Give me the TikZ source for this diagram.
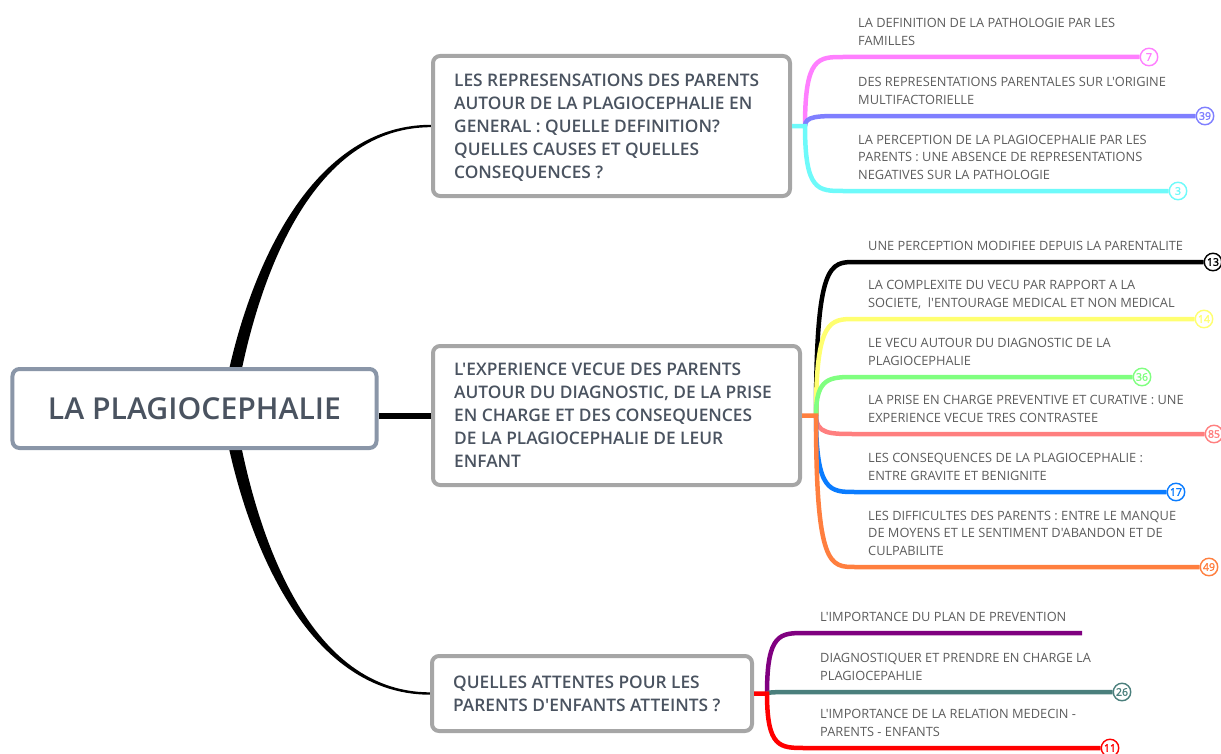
\documentclass[tikz,border=0pt]{standalone}
\usepackage{fontspec}
\setmainfont{Open Sans}[Ligatures=TeXOff]
\IfFontExistsTF{Open Sans SemiBold}
  {\newfontfamily\topicfont{Open Sans SemiBold}[Ligatures=TeXOff]}
  {\IfFontExistsTF{Open Sans Semibold}
    {\newfontfamily\topicfont{Open Sans Semibold}[Ligatures=TeXOff]}
    {\newfontfamily\topicfont{Open Sans}[Ligatures=TeXOff,FakeBold=2.5]}}
\newfontfamily\tallyfont{Open Sans}[Ligatures=TeXOff,FakeBold=2]
\usetikzlibrary{positioning,backgrounds}

\definecolor{rootblue}{HTML}{8A96A8}
\definecolor{boxgray}{HTML}{A6A6A6}
\definecolor{topicink}{HTML}{4A5360}
\definecolor{leafink}{HTML}{5C5C5C}
\definecolor{pinkc}{HTML}{FF7FFF}
\definecolor{lilacc}{HTML}{7F7FFF}
\definecolor{cyanc}{HTML}{6EFAFA}
\definecolor{yellowc}{HTML}{FFFF70}
\definecolor{greenc}{HTML}{80FF80}
\definecolor{salmonc}{HTML}{FF7F7F}
\definecolor{bluec}{HTML}{0A7CFF}
\definecolor{orangec}{HTML}{FF7F3F}
\definecolor{purplec}{HTML}{800080}
\definecolor{tealc}{HTML}{4A7F7C}
\definecolor{redc}{HTML}{FF0000}

\tikzset{
  rootbox/.style={draw=rootblue, line width=4bp, rounded corners=7bp, fill=white,
    minimum width=364bp, minimum height=79bp, text=topicink,
    font=\topicfont\fontsize{30.2bp}{36bp}\selectfont},
  topicbox/.style={draw=boxgray, line width=4bp, rounded corners=7bp, fill=white},
  topiclabel/.style={inner sep=0pt, align=left, text depth=0pt, text=topicink,
    font=\topicfont\fontsize{17.3bp}{23bp}\selectfont},
  leaftext/.style={inner sep=0pt, align=left, anchor=south west, text depth=0pt,
    text=leafink, font=\fontsize{12.8bp}{17.5bp}\selectfont},
  twig/.style={draw=#1, line width=4.5bp},
  tally/.style={circle, draw=#1, text=#1, fill=white, line width=1.4bp,
    minimum size=17.5bp, inner sep=0pt, font=\tallyfont\fontsize{10.5bp}{10.5bp}\selectfont},
}

\begin{document}
\begin{tikzpicture}[x=1bp, y=-1bp]
  \useasboundingbox (0,0) rectangle (1221,754);

  % main topics
  \node[rootbox] (root) at (194.5,408.5) {LA PLAGIOCEPHALIE};
  \node[topicbox, minimum width=357bp, minimum height=140bp] (rep) at (611.5,126) {};
  \node[topicbox, minimum width=367bp, minimum height=139bp] (exp) at (616.5,415.5) {};
  \node[topicbox, minimum width=320bp, minimum height=75bp] (att) at (592,693.5) {};

  \node[topiclabel, right=23bp of rep.west] (reptext)
    {LES REPRESENSATIONS DES PARENTS\\AUTOUR DE LA PLAGIOCEPHALIE EN\\GENERAL : QUELLE DEFINITION?\\QUELLES CAUSES ET QUELLES\\CONSEQUENCES ?};
  \node[topiclabel, right=23bp of exp.west] (exptext)
    {L'EXPERIENCE VECUE DES PARENTS\\AUTOUR DU DIAGNOSTIC, DE LA PRISE\\EN CHARGE ET DES CONSEQUENCES\\DE LA PLAGIOCEPHALIE DE LEUR\\ENFANT};
  \node[topiclabel, right=23bp of att.west] (atttext)
    {QUELLES ATTENTES POUR LES\\PARENTS D'ENFANTS ATTEINTS ?};

  % trunk from the root
  \coordinate (rootx) at (228,409);
  \begin{pgfonlayer}{background}
    \fill ([xshift=-6.5bp]rootx) .. controls +(17,-109) and +(-132,0) .. ([yshift=1.2bp]rep.west)
      -- ([yshift=-1.2bp]rep.west) .. controls +(-128,0) and +(17,-109) .. ([xshift=6.5bp]rootx) -- cycle;
    \fill ([xshift=-6.5bp]rootx) .. controls +(17,109) and +(-132,0) .. ([yshift=-1.2bp]att.west)
      -- ([yshift=1.2bp]att.west) .. controls +(-128,0) and +(17,109) .. ([xshift=6.5bp]rootx) -- cycle;
  \end{pgfonlayer}
  \draw[line width=6bp] (exp.west) -- (exp.west -| root.east);

  % first topic
  \coordinate (repfork) at ([xshift=13bp]rep.east);
  \coordinate (h11) at (843,57);
  \coordinate (h12) at (843,116);
  \coordinate (h13) at (843,191);
  \node[tally=pinkc] (n11) at (1149,57) {7};
  \node[tally=lilacc] (n12) at (1205,116) {39};
  \node[tally=cyanc] (n13) at (1178,191) {3};
  \draw[twig=pinkc] (repfork) .. controls (repfork |- h11) and +(-25,0) .. (h11) -- (n11);
  \draw[twig=lilacc] (repfork) .. controls (repfork |- h12) and +(-25,0) .. (h12) -- (n12);
  \draw[twig=cyanc] (rep.east) -- (repfork) .. controls (repfork |- h13) and +(-25,0) .. (h13) -- (n13);
  \node[leaftext] (t11) at (858,45.5) {LA DEFINITION DE LA PATHOLOGIE PAR LES\\FAMILLES};
  \node[leaftext] (t12) at (858,104.5) {DES REPRESENTATIONS PARENTALES SUR L'ORIGINE\\MULTIFACTORIELLE};
  \node[leaftext] (t13) at (858,179.5) {LA PERCEPTION DE LA PLAGIOCEPHALIE PAR LES\\PARENTS : UNE ABSENCE DE REPRESENTATIONS\\NEGATIVES SUR LA PATHOLOGIE};

  % second topic
  \coordinate (expfork) at ([xshift=14bp]exp.east);
  \coordinate (h21) at (855,262);
  \coordinate (h22) at (855,319);
  \coordinate (h23) at (855,377);
  \coordinate (h24) at (855,434);
  \coordinate (h25) at (855,492);
  \coordinate (h26) at (855,567);
  \node[tally=black] (n21) at (1213,262) {13};
  \node[tally=yellowc] (n22) at (1204,319) {14};
  \node[tally=greenc] (n23) at (1142,377) {36};
  \node[tally=salmonc] (n24) at (1214,434) {85};
  \node[tally=bluec] (n25) at (1176,492) {17};
  \node[tally=orangec] (n26) at (1209,567) {49};
  \draw[twig=black] (expfork) .. controls (expfork |- h21) and +(-25,0) .. (h21) -- (n21);
  \draw[twig=yellowc] (expfork) .. controls (expfork |- h22) and +(-25,0) .. (h22) -- (n22);
  \draw[twig=greenc] (expfork) .. controls (expfork |- h23) and +(-25,0) .. (h23) -- (n23);
  \draw[twig=salmonc] (expfork) .. controls (expfork |- h24) and +(-25,0) .. (h24) -- (n24);
  \draw[twig=bluec] (expfork) .. controls (expfork |- h25) and +(-25,0) .. (h25) -- (n25);
  \draw[twig=orangec] (exp.east) -- (expfork) .. controls (expfork |- h26) and +(-25,0) .. (h26) -- (n26);
  \node[leaftext] (t21) at (868,250.5) {UNE PERCEPTION MODIFIEE DEPUIS LA PARENTALITE};
  \node[leaftext] (t22) at (868,307.5) {LA COMPLEXITE DU VECU PAR RAPPORT A LA\\SOCIETE,~ l'ENTOURAGE MEDICAL ET NON MEDICAL};
  \node[leaftext] (t23) at (868,365.5) {LE VECU AUTOUR DU DIAGNOSTIC DE LA\\PLAGIOCEPHALIE};
  \node[leaftext] (t24) at (868,422.5) {LA PRISE EN CHARGE PREVENTIVE ET CURATIVE : UNE\\EXPERIENCE VECUE TRES CONTRASTEE};
  \node[leaftext] (t25) at (868,480.5) {LES CONSEQUENCES DE LA PLAGIOCEPHALIE :\\ENTRE GRAVITE ET BENIGNITE};
  \node[leaftext] (t26) at (868,555.5) {LES DIFFICULTES DES PARENTS : ENTRE LE MANQUE\\DE MOYENS ET LE SENTIMENT D'ABANDON ET DE\\CULPABILITE};

  % third topic
  \coordinate (attfork) at ([xshift=13bp]att.east);
  \coordinate (h31) at (805,633);
  \coordinate (e31) at (1082,633);
  \coordinate (h32) at (805,692);
  \coordinate (h33) at (805,748);
  \node[tally=tealc] (n32) at (1122,692) {26};
  \node[tally=redc] (n33) at (1110,748) {11};
  \draw[twig=purplec] (attfork) .. controls (attfork |- h31) and +(-25,0) .. (h31) -- (e31);
  \draw[twig=tealc] (attfork) .. controls (attfork |- h32) and +(-25,0) .. (h32) -- (n32);
  \draw[twig=redc] (att.east) -- (attfork) .. controls (attfork |- h33) and +(-25,0) .. (h33) -- (n33);
  \node[leaftext] (t31) at (820,621.5) {L'IMPORTANCE DU PLAN DE PREVENTION};
  \node[leaftext] (t32) at (820,680.5) {DIAGNOSTIQUER ET PRENDRE EN CHARGE LA\\PLAGIOCEPAHLIE};
  \node[leaftext] (t33) at (820,736.5) {L'IMPORTANCE DE LA RELATION MEDECIN -\\PARENTS - ENFANTS};
\end{tikzpicture}
\end{document}
